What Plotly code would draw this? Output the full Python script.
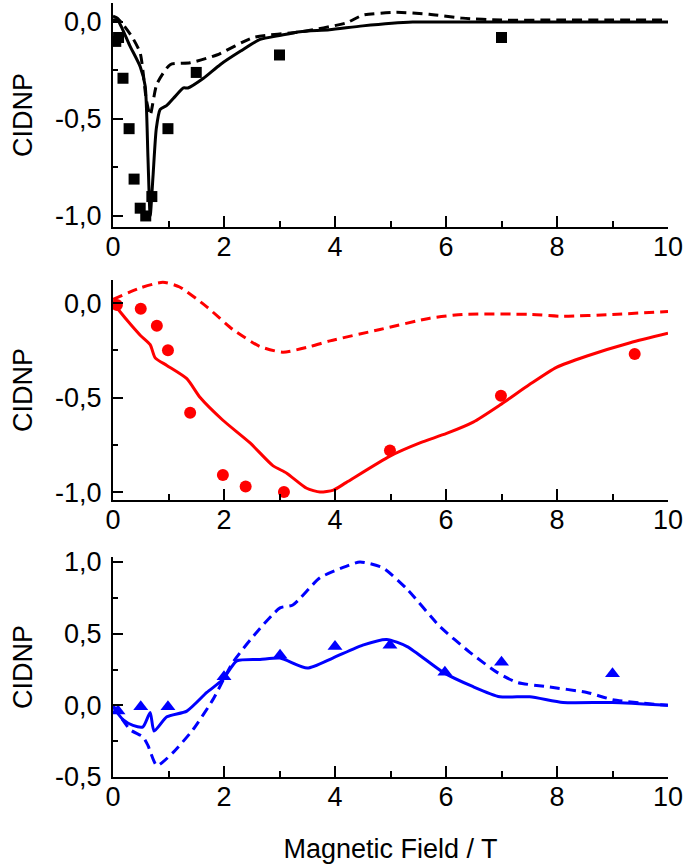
import plotly.graph_objects as go

# ---------------- data ----------------
# Panel 1 (black)
p1_exp_x = [0.05, 0.1, 0.18, 0.29, 0.38, 0.49, 0.59, 0.70, 0.99, 1.5, 3.0, 7.0]
p1_exp_y = [-0.10, -0.08, -0.29, -0.55, -0.81, -0.96, -1.0, -0.90, -0.55, -0.26, -0.17, -0.08]
p1_sol_x = [0, 0.08, 0.16, 0.3, 0.49, 0.58, 0.63, 0.67, 0.72, 0.78, 0.85, 0.97, 1.1, 1.27, 1.35, 1.63, 1.93, 2.3, 2.65, 3.0, 3.37, 3.9, 4.5, 5.4, 6.0, 7.0, 8.0, 9.0, 10.0]
p1_sol_y = [0.01, 0.01, -0.03, -0.12, -0.23, -0.33, -0.7, -1.0, -0.8, -0.55, -0.45, -0.43, -0.39, -0.34, -0.34, -0.29, -0.22, -0.15, -0.09, -0.07, -0.05, -0.04, -0.02, 0.0, 0.0, 0.0, 0.0, 0.0, 0.0]
p1_dash_x = [0, 0.08, 0.2, 0.35, 0.49, 0.6, 0.67, 0.79, 1.03, 1.39, 1.87, 2.53, 3.4, 4.2, 4.5, 5.1, 5.7, 6.3, 7.0, 8.0, 9.0, 10.0]
p1_dash_y = [0.03, 0.02, -0.02, -0.08, -0.16, -0.40, -0.48, -0.32, -0.22, -0.21, -0.17, -0.08, -0.05, -0.005, 0.035, 0.05, 0.04, 0.02, 0.01, 0.01, 0.01, 0.01]

# Panel 2 (red)
p2_exp_x = [0.07, 0.5, 0.79, 0.99, 1.39, 1.98, 2.39, 3.08, 4.99, 6.99, 9.4]
p2_exp_y = [-0.01, -0.03, -0.12, -0.25, -0.58, -0.91, -0.97, -1.0, -0.78, -0.49, -0.27]
p2_sol_x = [0, 0.25, 0.49, 0.67, 0.76, 0.97, 1.33, 1.57, 1.98, 2.47, 2.88, 3.13, 3.49, 3.73, 3.97, 4.2, 4.99, 5.53, 6.01, 6.49, 6.97, 7.51, 7.99, 8.54, 9.32, 10.0]
p2_sol_y = [0.0, -0.09, -0.17, -0.22, -0.29, -0.33, -0.40, -0.50, -0.62, -0.74, -0.86, -0.90, -0.98, -1.0, -0.99, -0.95, -0.81, -0.74, -0.69, -0.63, -0.54, -0.43, -0.34, -0.28, -0.21, -0.16]
p2_dash_x = [0, 0.49, 0.9, 1.2, 1.69, 2.16, 2.65, 3.06, 3.55, 3.91, 4.81, 5.71, 6.3, 7.51, 8.1, 9.0, 10.0]
p2_dash_y = [0.02, 0.08, 0.11, 0.085, -0.02, -0.14, -0.23, -0.26, -0.23, -0.20, -0.14, -0.08, -0.06, -0.06, -0.07, -0.06, -0.045]

# Panel 3 (blue)
p3_exp_x = [0.09, 0.5, 0.99, 2.0, 3.01, 4.0, 4.99, 5.98, 7.0, 9.0]
p3_exp_y = [-0.04, -0.01, -0.01, 0.20, 0.35, 0.41, 0.42, 0.23, 0.30, 0.22]
p3_sol_x = [0, 0.18, 0.36, 0.54, 0.67, 0.74, 0.97, 1.33, 1.69, 1.98, 2.23, 2.65, 3.01, 3.5, 3.96, 4.5, 4.93, 5.3, 5.95, 6.49, 6.97, 7.51, 8.11, 9.0, 10.0]
p3_sol_y = [-0.01, -0.10, -0.14, -0.15, -0.05, -0.18, -0.08, -0.04, 0.09, 0.18, 0.31, 0.32, 0.33, 0.26, 0.33, 0.42, 0.46, 0.41, 0.23, 0.13, 0.06, 0.06, 0.02, 0.02, 0.0]
p3_dash_x = [0, 0.31, 0.54, 0.63, 0.79, 1.08, 1.44, 1.8, 2.16, 2.59, 3.01, 3.24, 3.73, 4.2, 4.45, 4.86, 5.3, 5.89, 6.43, 6.92, 7.28, 7.82, 8.54, 9.0, 10.0]
p3_dash_y = [0.0, -0.17, -0.22, -0.28, -0.42, -0.33, -0.17, 0.04, 0.30, 0.51, 0.68, 0.70, 0.89, 0.97, 1.0, 0.96, 0.81, 0.55, 0.37, 0.23, 0.16, 0.13, 0.09, 0.04, 0.0]

x_ticks = [0, 2, 4, 6, 8, 10]
x_ticktext = ["0", "2", "4", "6", "8", "10"]
y1_ticks = [0.0, -0.5, -1.0]
y1_text = ["0,0", "-0,5", "-1,0"]
y3_ticks = [1.0, 0.5, 0.0, -0.5]
y3_text = ["1,0", "0,5", "0,0", "-0,5"]

# ---------------- figure ----------------
FONT = "Liberation Sans, Arial, sans-serif"
FS = 27
fig = go.Figure()

panels = [
    ("black", "square", p1_exp_x, p1_exp_y, p1_sol_x, p1_sol_y, p1_dash_x, p1_dash_y, 11),
    ("#ff0000", "circle", p2_exp_x, p2_exp_y, p2_sol_x, p2_sol_y, p2_dash_x, p2_dash_y, 12),
    ("#0000ff", "triangle-up", p3_exp_x, p3_exp_y, p3_sol_x, p3_sol_y, p3_dash_x, p3_dash_y, 13),
]
for i, (col, sym, ex, ey, sx, sy, dx, dy, ms) in enumerate(panels):
    ax = "" if i == 0 else str(i + 1)
    fig.add_trace(go.Scatter(x=dx, y=dy, mode="lines",
                             line=dict(color=col, width=3, dash="10px,6px", shape="spline", smoothing=0.6),
                             xaxis="x" + ax, yaxis="y" + ax, showlegend=False))
    fig.add_trace(go.Scatter(x=sx, y=sy, mode="lines",
                             line=dict(color=col, width=3, shape="spline", smoothing=0.6),
                             xaxis="x" + ax, yaxis="y" + ax, showlegend=False))
    fig.add_trace(go.Scatter(x=ex, y=ey, mode="markers",
                             marker=dict(color=col, symbol=sym, size=ms, line=dict(width=0)),
                             xaxis="x" + ax, yaxis="y" + ax, showlegend=False))

W, H = 685, 868
top, bot = 3, 91
ph = H - top - bot


def dom(y0, y1):
    return [(H - bot - y1) / ph, (H - bot - y0) / ph]


xcommon = dict(range=[0, 10], tickvals=x_ticks, ticktext=x_ticktext, ticks="inside", ticklen=11, tickwidth=2,
               tickcolor="black", showline=True, linecolor="black", linewidth=2, showgrid=False, zeroline=False,
               automargin=False, ticklabelstandoff=-5,
               tickfont=dict(size=FS, color="black", family=FONT),
               minor=dict(tickvals=[1, 3, 5, 7, 9], ticks="inside", ticklen=6, tickwidth=2, tickcolor="black"))
ycommon = dict(ticks="inside", ticklen=10, tickwidth=2, tickcolor="black", showline=True, linecolor="black",
               linewidth=2, showgrid=False, zeroline=False, automargin=False, ticklabelstandoff=4,
               tickfont=dict(size=FS, color="black", family=FONT),
               title=dict(text="CIDNP", font=dict(size=FS, color="black", family=FONT), standoff=15))

fig.update_layout(
    width=W, height=H,
    margin=dict(l=113, r=17, t=top, b=bot),
    plot_bgcolor="white", paper_bgcolor="white",
    font=dict(family=FONT, color="black"),
    xaxis=dict(**xcommon, anchor="y"),
    xaxis2=dict(**xcommon, anchor="y2"),
    xaxis3=dict(**xcommon, anchor="y3",
                title=dict(text="Magnetic Field / T", font=dict(size=FS, color="black", family=FONT), standoff=28)),
    yaxis=dict(**ycommon, anchor="x", domain=dom(3, 227), range=[-1.057, 0.098], tickvals=y1_ticks, ticktext=y1_text,
               minor=dict(tickvals=[-0.25, -0.75], ticks="inside", ticklen=5, tickwidth=2, tickcolor="black")),
    yaxis2=dict(**ycommon, anchor="x2", domain=dom(280, 500), range=[-1.042, 0.122], tickvals=y1_ticks, ticktext=y1_text,
                minor=dict(tickvals=[-0.25, -0.75], ticks="inside", ticklen=5, tickwidth=2, tickcolor="black")),
    yaxis3=dict(**ycommon, anchor="x3", domain=dom(557, 777), range=[-0.5, 1.035], tickvals=y3_ticks, ticktext=y3_text,
                minor=dict(tickvals=[0.75, 0.25, -0.25], ticks="inside", ticklen=5, tickwidth=2, tickcolor="black")),
)

fig.write_html("out.html", config={"displayModeBar": False},
               post_script="document.body.style.margin='0px';")
